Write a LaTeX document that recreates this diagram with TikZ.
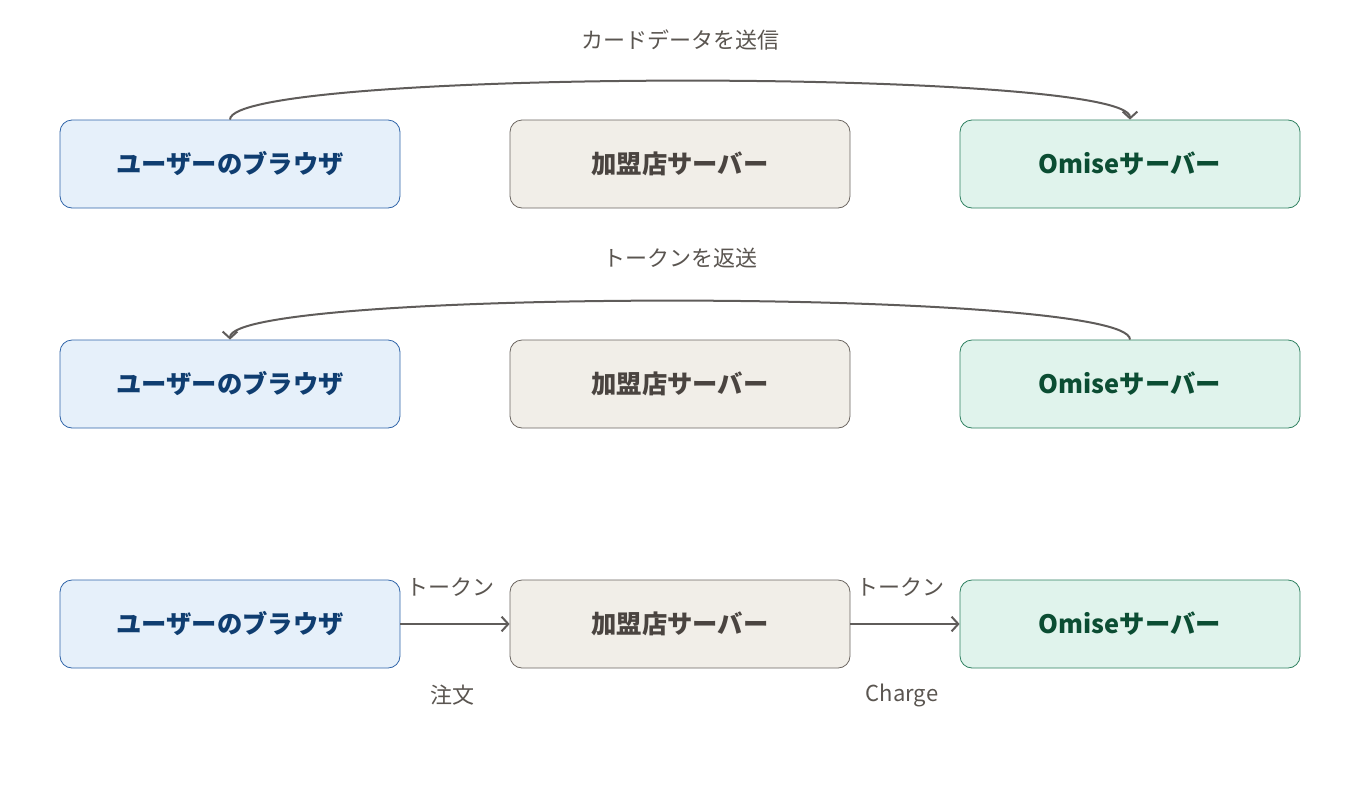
\documentclass[tikz,border=0pt]{standalone}
\usepackage{fontspec}
\setmainfont{Noto Sans CJK JP}
\usetikzlibrary{arrows.meta}
\definecolor{bfill}{HTML}{E6F0FA}\definecolor{bline}{HTML}{2F64A8}\definecolor{btext}{HTML}{0F3D70}
\definecolor{mfill}{HTML}{F1EEE8}\definecolor{mline}{HTML}{6B6560}\definecolor{mtext}{HTML}{4A4440}
\definecolor{gfill}{HTML}{E0F3EC}\definecolor{gline}{HTML}{2E8060}\definecolor{gtext}{HTML}{0B4D33}
\definecolor{arr}{HTML}{5F5C5A}\definecolor{lab}{HTML}{5A5550}
\begin{document}
\begin{tikzpicture}[x=0.75pt,y=-0.75pt,
 box/.style={rounded corners=9pt,minimum width=255pt,minimum height=66pt,line width=0.6pt,font=\fontsize{19}{22}\selectfont\bfseries},
 br/.style={box,fill=bfill,draw=bline,text=btext},
 me/.style={box,fill=mfill,draw=mline,text=mtext},
 om/.style={box,fill=gfill,draw=gline,text=gtext},
 con/.style={draw=arr,line width=1.5pt,-{Straight Barb[length=5pt,width=11pt]}},
 lb/.style={text=lab,font=\fontsize{16.5}{20}\selectfont}]
\useasboundingbox (0,0) rectangle (1360,800);
\foreach \r/\y in {1/164,2/384,3/624}{
 \node[br] (b\r) at (230,\y) {ユーザーのブラウザ};
 \node[me] (m\r) at (680,\y) {加盟店サーバー};
 \node[om] (o\r) at (1130,\y) {Omiseサーバー};
}
\node[lb] (l1) at (680,40) {カードデータを送信};
\node[lb] (l2) at (680,258) {トークンを返送};
\draw[con] (b1.north) .. controls (230,68) and (1130,68) .. (o1.north);
\draw[con] (o2.north) .. controls (1130,288) and (230,288) .. (b2.north);
\draw[con] (b3.east) -- (m3.west);
\draw[con] (m3.east) -- (o3.west);
\node[lb] (t1) at (450,587) {トークン};
\node[lb] (t2) at (900,587) {トークン};
\node[lb] (c1) at (452,695) {注文};
\node[lb] (c2) at (902,695) {Charge};
\end{tikzpicture}
\end{document}
